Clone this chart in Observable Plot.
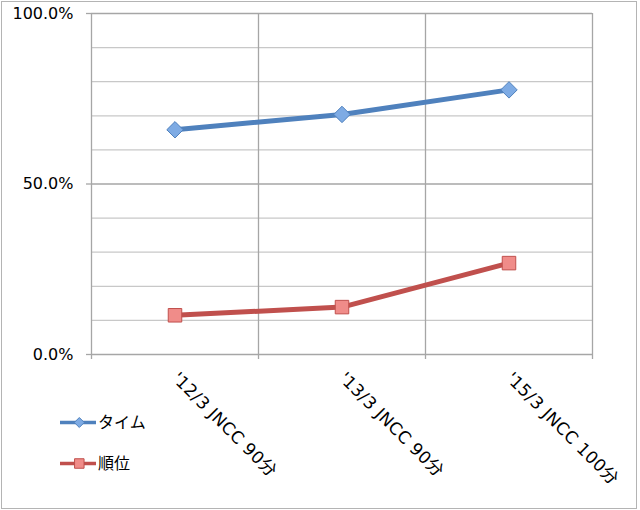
<!DOCTYPE html>
<html><head><meta charset="utf-8">
<script src="https://cdn.jsdelivr.net/npm/d3@7"></script>
<script src="https://cdn.jsdelivr.net/npm/@observablehq/plot@0.6"></script>
<style>
body{margin:0;background:#fff;}
#wrap{position:relative;width:640px;height:510px;overflow:hidden;}
#frame{position:absolute;left:1px;top:1px;width:634px;height:506px;border:1.5px solid #b4b4b4;pointer-events:none;}
#legend{position:absolute;left:0;top:0;pointer-events:none;}
.xlab text{letter-spacing:0.4px;}
</style></head><body>
<div id="wrap"><div id="chart"></div><svg id="legend" width="640" height="510"></svg><div id="frame"></div></div>
<script>
const categories = ["'12/3 JNCC 90分", "'13/3 JNCC 90分", "'15/3 JNCC 100分"];
const seriesNames = ["タイム", "順位"];
const timeValues = [65.9, 70.4, 77.6];
const rankValues = [11.5, 13.9, 26.8];
const yMajorTicks = [0, 50, 100];
const yMinorTicks = [10, 20, 30, 40, 60, 70, 80, 90];

const blue = "#4f81bd", blueFill = "#7eabe4";
const red = "#c0504d", redFill = "#f08c89";
const font = "'DejaVu Sans', 'Noto Sans CJK JP', sans-serif";

const rows = categories.map((c, i) => ({cat: c, pos: i + 0.5, time: timeValues[i], rank: rankValues[i]}));
const bounds = d3.range(categories.length + 1);

const chart = Plot.plot({
  width: 640, height: 510,
  marginLeft: 91, marginRight: 48, marginTop: 13, marginBottom: 156,
  style: {fontFamily: font, fontSize: "16px", color: "#000", background: "transparent", overflow: "visible"},
  x: {domain: [0, categories.length]},
  y: {domain: [0, 100]},
  marks: [
    Plot.ruleY(yMinorTicks, {stroke: "#c8c8c8", strokeWidth: 1.3}),
    Plot.ruleY(yMajorTicks, {stroke: "#a6a6a6", strokeWidth: 1.3}),
    Plot.ruleX(bounds, {stroke: "#a6a6a6", strokeWidth: 1.3}),
    Plot.axisY({ticks: yMajorTicks, tickSize: 5, tickPadding: 13, tickFormat: d => d.toFixed(1) + "%", stroke: "#a6a6a6", strokeWidth: 1.3, label: null}),
    Plot.axisX({ticks: bounds, tickSize: 5, tickFormat: () => "", stroke: "#a6a6a6", strokeWidth: 1.3, label: null}),
    Plot.axisX({ticks: rows.map(d => d.pos), tickSize: 0, tickPadding: 21, tickRotate: 45, textAnchor: "start", lineAnchor: "middle", fontSize: 17, className: "xlab", tickFormat: d => categories[Math.floor(d)], label: null}),
    Plot.line(rows, {x: "pos", y: "time", stroke: blue, strokeWidth: 5}),
    Plot.line(rows, {x: "pos", y: "rank", stroke: red, strokeWidth: 5}),
    Plot.dot(rows, {x: "pos", y: "time", symbol: "diamond2", r: 7.4, fill: blueFill, stroke: blue, strokeWidth: 1}),
    Plot.dot(rows, {x: "pos", y: "rank", symbol: "square2", r: 8.6, fill: redFill, stroke: red, strokeWidth: 1})
  ]
});
document.getElementById("chart").append(chart);

// legend
const lg = d3.select("#legend");
const legendItems = [
  {name: seriesNames[0], color: blue, fill: blueFill, sym: d3.symbolDiamond2, size: 64, y: 422.5},
  {name: seriesNames[1], color: red, fill: redFill, sym: d3.symbolSquare2, size: 115, y: 463.5}
];
legendItems.forEach(it => {
  lg.append("line").attr("x1", 60).attr("x2", 96).attr("y1", it.y).attr("y2", it.y)
    .attr("stroke", it.color).attr("stroke-width", 3.5);
  lg.append("path").attr("d", d3.symbol(it.sym, it.size)()).attr("transform", `translate(79.3,${it.y})`)
    .attr("fill", it.fill).attr("stroke", it.color).attr("stroke-width", 1);
  lg.append("text").attr("x", 98).attr("y", it.y).attr("dy", "0.35em")
    .attr("font-family", font).attr("font-size", 16).text(it.name);
});
</script>
</body></html>
